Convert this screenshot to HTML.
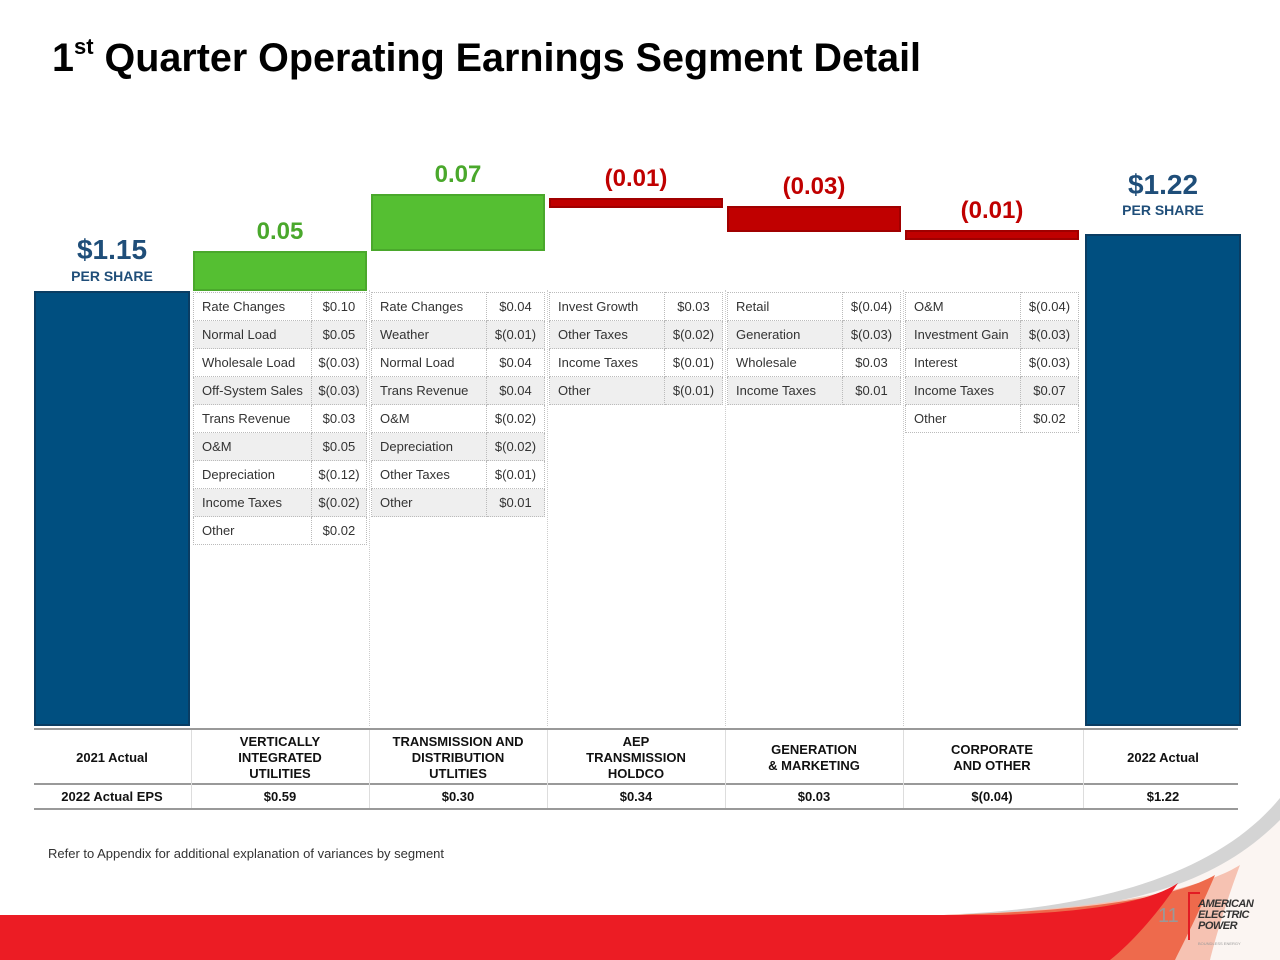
<!DOCTYPE html>
<html><head><meta charset="utf-8">
<style>
body{margin:0;width:1280px;height:960px;overflow:hidden;background:#fff;font-family:"Liberation Sans",sans-serif;position:relative}
.abs{position:absolute}
.title{left:52px;top:36px;font-size:39.5px;font-weight:bold;color:#000;letter-spacing:0px}
.title sup{font-size:22px;position:relative;top:-2px;vertical-align:top}
.bar{position:absolute;box-sizing:border-box}
.lbl{position:absolute;font-weight:bold;text-align:center;font-size:24px}
.tbl{position:absolute;border-collapse:collapse;font-size:13px;color:#333}
.tbl td{height:27px;border:1px dotted #bbb;padding:0 8px;white-space:nowrap}
.tbl tr:nth-child(even) td{background:#efefef}
.tbl td.v{text-align:center;padding:0 2px}
.sep{position:absolute;top:290px;height:436px;border-left:1px dotted #ccc}
.bt{position:absolute;font-size:13px;font-weight:bold;text-align:center;color:#111;line-height:16px}
.hl{position:absolute;left:34px;width:1204px;height:0;border-top:2px solid #999}
.vl{position:absolute;border-left:1px solid #ddd}
</style></head><body>
<div class="abs title">1<sup>st</sup> Quarter Operating Earnings Segment Detail</div>
<div id="chart"></div>

<div class="hl" style="top:728px"></div>
<div class="hl" style="top:783px"></div>
<div class="hl" style="top:808px"></div>
<div id="btable"></div>

<div class="abs" style="left:48px;top:846px;font-size:13px;color:#333">Refer to Appendix for additional explanation of variances by segment</div>

<svg class="abs" style="left:0;top:780px" width="1280" height="180">
<path d="M1000,133 C1150,125 1230,80 1280,20 L1280,180 L1000,180Z" fill="#fbf5f2"/>
<path d="M960,134 C1120,126 1225,85 1280,18 L1280,40 C1220,100 1140,128 990,135Z" fill="#d4d4d4"/>
<path d="M900,136 C1100,133 1200,110 1240,85 C1225,125 1215,160 1210,180 L900,180Z" fill="#f6c2b2"/>
<path d="M900,136 C1100,133 1180,115 1215,95 C1200,130 1185,160 1175,180 L900,180Z" fill="#ee6a4c"/>
<path d="M0,135 L1000,135 C1090,132 1150,122 1178,103 C1160,130 1135,160 1110,180 L0,180Z" fill="#ec1c24"/>
</svg>
<div class="abs" style="left:1158px;top:905px;font-size:20px;color:#999">11</div>
<div class="abs" style="left:1188px;top:892px;width:70px;height:52px">
<div class="abs" style="left:0;top:0;width:10px;height:46px;border-left:2px solid #e21c24;border-top:2px solid #e21c24"></div>
<div class="abs" style="left:10px;top:7px;font-size:11px;font-weight:bold;font-style:italic;line-height:11px;color:#333;letter-spacing:-0.5px">AMERICAN<br>ELECTRIC<br>POWER</div>
<div class="abs" style="left:10px;top:49px;font-size:4px;color:#999">BOUNDLESS ENERGY</div>
</div>

<script>
const segments=["VIU","T&D","AEPTHC","G&M","Corp"];
const startValue=1.15;
const endValue=1.22;
const deltas=[0.05,0.07,-0.01,-0.03,-0.01];
const deltaLabels=["0.05","0.07","(0.01)","(0.03)","(0.01)"];
const startLabel="$1.15";
const endLabel="$1.22";

const tables=[
[["Rate Changes","$0.10"],["Normal Load","$0.05"],["Wholesale Load","$(0.03)"],["Off-System Sales","$(0.03)"],["Trans Revenue","$0.03"],["O&M","$0.05"],["Depreciation","$(0.12)"],["Income Taxes","$(0.02)"],["Other","$0.02"]],
[["Rate Changes","$0.04"],["Weather","$(0.01)"],["Normal Load","$0.04"],["Trans Revenue","$0.04"],["O&M","$(0.02)"],["Depreciation","$(0.02)"],["Other Taxes","$(0.01)"],["Other","$0.01"]],
[["Invest Growth","$0.03"],["Other Taxes","$(0.02)"],["Income Taxes","$(0.01)"],["Other","$(0.01)"]],
[["Retail","$(0.04)"],["Generation","$(0.03)"],["Wholesale","$0.03"],["Income Taxes","$0.01"]],
[["O&M","$(0.04)"],["Investment Gain","$(0.03)"],["Interest","$(0.03)"],["Income Taxes","$0.07"],["Other","$0.02"]]
];
const colHeads=["2021 Actual","VERTICALLY<br>INTEGRATED<br>UTILITIES","TRANSMISSION AND<br>DISTRIBUTION<br>UTLITIES","AEP<br>TRANSMISSION<br>HOLDCO","GENERATION<br>&amp; MARKETING","CORPORATE<br>AND OTHER","2022 Actual"];
const epsVals=["2022 Actual EPS","$0.59","$0.30","$0.34","$0.03","$(0.04)","$1.22"];

const yBase=726, k=814, v0=0.616;
function y(v){return yBase-(v-v0)*k;}
const colX=[34,193,371,549,727,905,1085];
const colW=[156,174,174,174,174,174,156];
const chart=document.getElementById('chart');

function mk(cls,name,css,html){const d=document.createElement('div');d.className=cls;d.style.cssText=css;if(html)d.innerHTML=html;


chart.appendChild(d);return d;}

mk('bar','bar-2021-actual',`left:${colX[0]}px;top:${y(startValue)}px;width:${colW[0]}px;height:${yBase-y(startValue)}px;background:#004f80;border:2px solid #0a3d63`);
mk('lbl','label-2021-value',`left:${colX[0]}px;top:${y(startValue)-57}px;width:${colW[0]}px;color:#1f4e79;font-size:28px`,startLabel);
mk('lbl','label-2021-per-share',`left:${colX[0]}px;top:${y(startValue)-23}px;width:${colW[0]}px;color:#1f4e79;font-size:14px`,'PER SHARE');
let cur=startValue;
deltas.forEach((d,i)=>{
  const a=cur,b=cur+d;cur=b;
  let top=y(Math.max(a,b)),h=Math.abs(y(a)-y(b));
  const pos=d>=0;
  if(!pos){top+=4;h+=2;}
  mk('bar','bar-'+segments[i].toLowerCase().replace(/[^a-z]/g,''),`left:${colX[i+1]}px;top:${top}px;width:${colW[i+1]}px;height:${h}px;background:${pos?'#55bf32':'#c00000'};border:2px solid ${pos?'#4aa82c':'#a00000'}`);
  mk('lbl','delta-label-'+(i+1),`left:${colX[i+1]}px;top:${top-33}px;width:${colW[i+1]}px;color:${pos?'#4aa82c':'#c00000'}`,deltaLabels[i]);
});
mk('bar','bar-2022-actual',`left:${colX[6]}px;top:${y(endValue)}px;width:${colW[6]}px;height:${yBase-y(endValue)}px;background:#004f80;border:2px solid #0a3d63`);
mk('lbl','label-2022-value',`left:${colX[6]}px;top:${y(endValue)-65}px;width:${colW[6]}px;color:#1f4e79;font-size:28px`,endLabel);
mk('lbl','label-2022-per-share',`left:${colX[6]}px;top:${y(endValue)-32}px;width:${colW[6]}px;color:#1f4e79;font-size:14px`,'PER SHARE');

[369,547,725,903].forEach((x,i)=>mk('sep','column-separator-'+(i+1),`left:${x}px`));

tables.forEach((rows,i)=>{
  const t=document.createElement('table');t.className='tbl';
  
  
  t.style.cssText=`left:${colX[i+1]}px;top:292px;width:${colW[i+1]}px`;
  rows.forEach(r=>{const tr=t.insertRow();const c1=tr.insertCell();c1.textContent=r[0];c1.style.width='98px';const c2=tr.insertCell();c2.className='v';c2.textContent=r[1];});
  chart.appendChild(t);
});

const bt=document.getElementById('btable');
colHeads.forEach((h,i)=>{
  const d=document.createElement('div');d.className='bt';
  
  
  d.style.cssText=`left:${colX[i]}px;width:${colW[i]}px;top:${758-(h.split('<br>').length*8)}px`;
  d.innerHTML=h;bt.appendChild(d);
  const e=document.createElement('div');e.className='bt';
  
  
  e.style.cssText=`left:${colX[i]}px;width:${colW[i]}px;top:789px`;
  e.textContent=epsVals[i];bt.appendChild(e);
  if(i>0){const v=document.createElement('div');v.className='vl';
  
  
  v.style.cssText=`left:${colX[i]-2}px;top:730px;height:78px`;bt.appendChild(v);}
});
</script>
</body></html>
